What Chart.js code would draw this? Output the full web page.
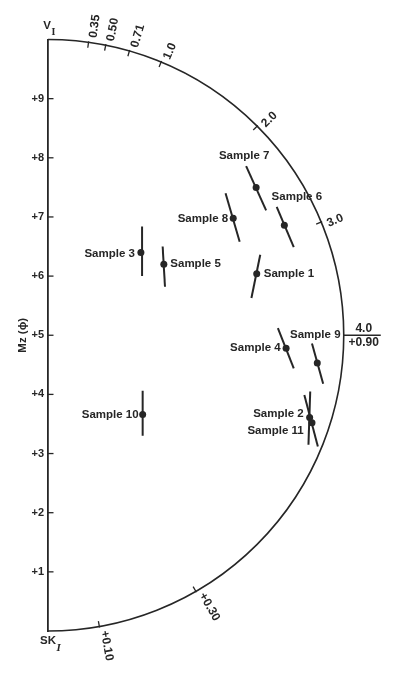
<!DOCTYPE html>
<html>
<head>
<meta charset="utf-8">
<script src="https://cdn.jsdelivr.net/npm/chart.js@4.4.1/dist/chart.umd.min.js"></script>
<style>
  html, body { margin: 0; padding: 0; background: #fff; }
  #wrap { width: 393px; height: 674px; position: relative; }
</style>
</head>
<body>
<div id="wrap"><canvas id="c"></canvas></div>
<script>
// Sample means (Mz, phi) and horizontal plotting position inside the semicircle
const samples = ['Sample 1', 'Sample 2', 'Sample 3', 'Sample 4', 'Sample 5', 'Sample 6',
                 'Sample 7', 'Sample 8', 'Sample 9', 'Sample 10', 'Sample 11'];
const mz      = [6.04, 3.61, 6.40, 4.78, 6.20, 6.86, 7.50, 6.98, 4.53, 3.66, 3.52];
const xPos    = [3.55, 4.45, 1.58, 4.05, 1.97, 4.02, 3.54, 3.15, 4.58, 1.61, 4.49];

// Range bar through each sample: upper and lower end
const topX  = [3.61, 4.46, 1.60, 3.91, 1.95, 3.89, 3.37, 3.02, 4.49, 1.61, 4.36];
const topMz = [6.36, 4.05, 6.84, 5.12, 6.50, 7.17, 7.86, 7.40, 4.86, 4.06, 3.99];
const botX  = [3.46, 4.43, 1.60, 4.18, 1.99, 4.18, 3.71, 3.26, 4.68, 1.61, 4.59];
const botMz = [5.63, 3.15, 6.00, 4.44, 5.82, 6.49, 7.11, 6.58, 4.18, 3.30, 3.12];

// Mz axis ticks
const mzTicks = [1, 2, 3, 4, 5, 6, 7, 8, 9];

// Sorting (upper arc) and skewness (lower arc) scales
const sortingTicks  = [0.35, 0.50, 0.71, 1.0, 2.0, 3.0, 4.0];
const sortingLabels = ['0.35', '0.50', '0.71', '1.0', '2.0', '3.0', '4.0'];
const skewTicks  = [0.10, 0.30, 0.90];
const skewLabels = ['+0.10', '+0.30', '+0.90'];

// Where each sample name sits relative to its point (pixels)
const labelPlacement = {
  'Sample 1':  { align: 'left',   dx: 7,    dy: 0.5 },
  'Sample 2':  { align: 'right',  dx: -6,   dy: -3.5 },
  'Sample 3':  { align: 'right',  dx: -6,   dy: 1 },
  'Sample 4':  { align: 'right',  dx: -5.5, dy: -0.5 },
  'Sample 5':  { align: 'left',   dx: 6.5,  dy: 0 },
  'Sample 6':  { align: 'center', dx: 12.5, dy: -28.3 },
  'Sample 7':  { align: 'center', dx: -12,  dy: -32 },
  'Sample 8':  { align: 'right',  dx: -5,   dy: 0.7 },
  'Sample 9':  { align: 'center', dx: -2,   dy: -28.3 },
  'Sample 10': { align: 'right',  dx: -4,   dy: 0 },
  'Sample 11': { align: 'right',  dx: -8.3, dy: 7.6 }
};

const INK = '#262626';
const FONT = "'Liberation Sans', Arial, Helvetica, sans-serif";
const SERIF = "'Liberation Serif', 'Times New Roman', serif";

const MZ_MAX = 10, X_MAX = 5.8;
const W = 393, H = 674, PAD_TOP = 39.5, PAD_BOTTOM = 43, AXIS_W = 48;
const ppu = (H - PAD_TOP - PAD_BOTTOM) / MZ_MAX;          // same scale on both axes
const PAD_RIGHT = W - AXIS_W - X_MAX * ppu;

const SORT_DEG = 22.5;   // degrees of arc per sorting unit, from the top
const SKEW_DEG = 100;    // degrees of arc per skewness unit, from the bottom

function seg(ctx, x1, y1, x2, y2) {
  ctx.beginPath(); ctx.moveTo(x1, y1); ctx.lineTo(x2, y2); ctx.stroke();
}

const diagram = {
  id: 'diagram',
  beforeDatasetsDraw(chart) {
    const { ctx, scales: { x, y } } = chart;
    const cx = x.getPixelForValue(0);
    const cy = y.getPixelForValue(MZ_MAX / 2);
    const R = Math.abs(y.getPixelForValue(0) - cy);
    ctx.save();
    ctx.strokeStyle = INK;
    ctx.fillStyle = INK;
    ctx.lineWidth = 1.6;
    ctx.beginPath();
    ctx.arc(cx, cy, R, -Math.PI / 2, Math.PI / 2);
    ctx.stroke();

    // inward tick marks on the Mz axis
    ctx.lineWidth = 1.3;
    mzTicks.forEach(v => {
      const py = y.getPixelForValue(v);
      seg(ctx, cx, py, cx + 5.5, py);
    });

    ctx.font = 'bold 12px ' + FONT;
    // sorting scale along the upper arc
    sortingTicks.forEach((s, i) => {
      const th = s * SORT_DEG * Math.PI / 180;
      const ux = Math.sin(th), uy = -Math.cos(th);
      if (Math.abs(th - Math.PI / 2) < 1e-6) {
        seg(ctx, cx + R, cy, cx + R + 37, cy);
        ctx.textAlign = 'center'; ctx.textBaseline = 'middle';
        ctx.fillText(sortingLabels[i], cx + R + 20, cy - 6.5);
        return;
      }
      seg(ctx, cx + ux * (R - 5.5), cy + uy * (R - 5.5), cx + ux * (R + 1), cy + uy * (R + 1));
      ctx.save();
      ctx.translate(cx, cy);
      ctx.rotate(th - Math.PI / 2);
      ctx.textAlign = 'left'; ctx.textBaseline = 'middle';
      ctx.fillText(sortingLabels[i], R + 5, 4);
      ctx.restore();
    });

    // skewness scale along the lower arc
    skewTicks.forEach((k, i) => {
      const th = k * SKEW_DEG * Math.PI / 180;
      const ux = Math.sin(th), uy = Math.cos(th);
      if (Math.abs(th - Math.PI / 2) < 1e-6) {
        ctx.textAlign = 'center'; ctx.textBaseline = 'middle';
        ctx.fillText(skewLabels[i], cx + R + 20, cy + 7.5);
        return;
      }
      seg(ctx, cx + ux * (R - 5.5), cy + uy * (R - 5.5), cx + ux * (R + 1), cy + uy * (R + 1));
      ctx.save();
      ctx.translate(cx, cy);
      ctx.rotate(Math.PI / 2 - th);
      ctx.textAlign = 'left'; ctx.textBaseline = 'middle';
      ctx.fillText(skewLabels[i], R + 5, -4);
      ctx.restore();
    });
    ctx.restore();
  },
  afterDatasetsDraw(chart) {
    const { ctx, chartArea } = chart;
    const meta = chart.getDatasetMeta(0);
    ctx.save();
    ctx.fillStyle = INK;
    ctx.font = 'bold 11.5px ' + FONT;
    ctx.textBaseline = 'middle';
    samples.forEach((name, i) => {
      const pt = meta.data[i];
      const p = labelPlacement[name];
      ctx.textAlign = p.align;
      ctx.fillText(name, pt.x + p.dx, pt.y + p.dy);
    });

    // corner labels V_I and SK_I
    const L = chartArea.left, T = chartArea.top, B = chartArea.bottom;
    ctx.textBaseline = 'alphabetic';
    ctx.textAlign = 'center';
    ctx.font = 'bold 11.5px ' + FONT;
    ctx.fillText('V', L - 1, T - 11);
    ctx.fillText('SK', L, B + 12.5);
    ctx.textAlign = 'left';
    ctx.font = 'bold 10px ' + SERIF;
    ctx.fillText('I', L + 3.5, T - 4.5);
    ctx.font = 'bold italic 11px ' + SERIF;
    ctx.fillText('I', L + 8.5, B + 20);
    ctx.restore();
  }
};

const datasets = [
  {
    label: 'samples',
    data: samples.map((s, i) => ({ x: xPos[i], y: mz[i] })),
    pointRadius: 3.5,
    pointBackgroundColor: INK,
    pointBorderWidth: 0,
    showLine: false
  },
  ...samples.map((s, i) => ({
    label: s + ' range',
    data: [{ x: topX[i], y: topMz[i] }, { x: botX[i], y: botMz[i] }],
    showLine: true,
    borderColor: INK,
    borderWidth: 2,
    pointRadius: 0
  }))
];

new Chart(document.getElementById('c'), {
  type: 'scatter',
  data: { datasets },
  options: {
    responsive: true,
    maintainAspectRatio: false,
    animation: false,
    layout: { padding: { top: PAD_TOP, bottom: PAD_BOTTOM, left: 0, right: PAD_RIGHT } },
    plugins: { legend: { display: false }, tooltip: { enabled: false } },
    scales: {
      x: { type: 'linear', min: 0, max: X_MAX, display: false },
      y: {
        type: 'linear', min: 0, max: MZ_MAX,
        afterFit: scale => { scale.width = AXIS_W; },
        afterBuildTicks: scale => { scale.ticks = mzTicks.map(v => ({ value: v })); },
        grid: { display: true, drawOnChartArea: false, drawTicks: false },
        border: { display: true, color: INK, width: 1.8 },
        ticks: {
          padding: 4,
          color: INK,
          font: { family: FONT, size: 11, weight: 'bold' },
          callback: v => '+' + v
        },
        title: {
          display: true,
          text: 'Mz (ϕ)',
          color: INK,
          font: { family: FONT, size: 11.5, weight: 'bold' },
          padding: { top: 16, bottom: 0 }
        }
      }
    }
  },
  plugins: [diagram]
});
</script>
</body>
</html>
